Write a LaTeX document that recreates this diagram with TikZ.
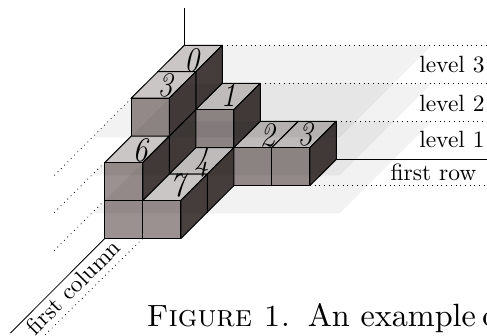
\documentclass[tikz,border=0pt]{standalone}
\usetikzlibrary{calc}
\definecolor{cfront}{HTML}{9B9191}
\definecolor{ctop}{HTML}{D6D1D1}
\definecolor{cside}{HTML}{484140}
\tikzset{
  facefront/.style={draw=black,line width=1pt,line join=round,fill=cfront},
  facetop/.style={draw=black,line width=1pt,line join=round,fill=ctop},
  faceside/.style={draw=black,line width=1pt,line join=round,fill=cside},
  plane/.style={fill=black,fill opacity=0.05,draw=none},
  dots/.style={line width=0.8pt,dash pattern=on 0.8pt off 3.9pt},
  refline/.style={line width=0.8pt,draw=black},
  lab/.style={scale=2.35,inner sep=0pt},
  digit/.style={inner sep=0pt,yscale=1.15,font=\fontsize{30}{30}\selectfont\itshape}
}
% column, row, height (height = number of the cube's top level)
\newcommand{\cubeat}[3]{%
  \coordinate (A) at ({184.3+38*#1-26.5*#2},{159.3+26.4*#2-38*#3});
  \draw[facetop] (A) -- ++(38,0) -- ++(-26.5,26.4) -- ++(-38,0) -- cycle;
  \draw[facefront] ($(A)+(-26.5,26.4)$) -- ++(38,0) -- ++(0,38) -- ++(-38,0) -- cycle;
  \draw[faceside] ($(A)+(38,0)$) -- ++(-26.5,26.4) -- ++(0,38) -- ++(26.5,-26.4) -- cycle;
}
\begin{document}
\begin{tikzpicture}[x=1pt,y=-1pt]
\useasboundingbox (0,0) rectangle (487,335);
\clip (0,0) rectangle (487,335);
% axis
\coordinate (axT) at (184.3,8);
\coordinate (axB) at (184.3,45.3);
\draw[refline] (axT) -- (axB);
% cubes, back to front
\foreach \c/\r/\h in {0/0/1,0/0/2,0/0/3,1/0/1,1/0/2,2/0/1,3/0/1,
                      0/1/1,0/1/2,0/1/3,1/1/1,
                      0/2/1,0/2/2,1/2/1}{\cubeat{\c}{\r}{\h}}
% planes
\foreach \b in {45.3,83.3,121.3}{
  \fill[plane] (184.3,\b) -- (431.7,\b) -- (339.7,\b+92) -- (92.3,\b+92) -- cycle;
}
% dotted and plain reference lines
\coordinate (l3a) at (222.3,45.3);   \coordinate (l3b) at (487,45.3);
\coordinate (l2a) at (260.3,83.3);   \coordinate (l2b) at (487,83.3);
\coordinate (l1a) at (336.3,121.3);  \coordinate (l1b) at (487,121.3);
\coordinate (r0a) at (336.3,159.3);  \coordinate (r0b) at (487,159.3);
\coordinate (r1a) at (309.8,185.7);  \coordinate (r1b) at (487,185.7);
\coordinate (d3a) at (131.3,98.3);   \coordinate (d3b) at (54,175.7);
\coordinate (d2a) at (104.7,162.3);  \coordinate (d2b) at (54,212.7);
\coordinate (d1a) at (104.7,200.3);  \coordinate (d1b) at (54,250.7);
\coordinate (c0a) at (104.7,238.5);  \coordinate (c0b) at (10.5,333);
\coordinate (c1a) at (142.7,238.5);  \coordinate (c1b) at (45,335);
\foreach \a/\b in {l3a/l3b,l2a/l2b,l1a/l1b,r1a/r1b,d3a/d3b,d2a/d2b,d1a/d1b,c1a/c1b}{
  \draw[dots] (\a) -- (\b);
}
\draw[refline] (r0a) -- (r0b);
\draw[refline] (c0a) -- (c0b);
% digits on the top faces
\node[digit] (n0) at (191.7,60) {0};
\node[digit] (n1) at (228.3,95) {1};
\node[digit] (n2) at (267.3,135.5) {2};
\node[digit] (n3) at (305,134) {3};
\node[digit] (n3b) at (165,85) {3};
\node[digit] (n4) at (201.7,162) {4};
\node[digit] (n6) at (140,150) {6};
\node[digit] (n7) at (177.3,185) {7};
% labels
\node[lab,anchor=base east] (t3) at (485,72.7) {level 3};
\node[lab,anchor=base east] (t2) at (485,111) {level 2};
\node[lab,anchor=base east] (t1) at (485,147.7) {level 1};
\node[lab,anchor=base] (tr) at (433.5,180) {first row};
\node[lab,rotate=45] (tc) at (73,287) {first column};
\node[scale=3.22,inner sep=0pt,anchor=base west] (cap) at (146,326.7) {\scalebox{0.954}{\textsc{Figure 1.}}\hspace{5.4pt}An example\hspace{2pt}o};
\end{tikzpicture}
\end{document}
